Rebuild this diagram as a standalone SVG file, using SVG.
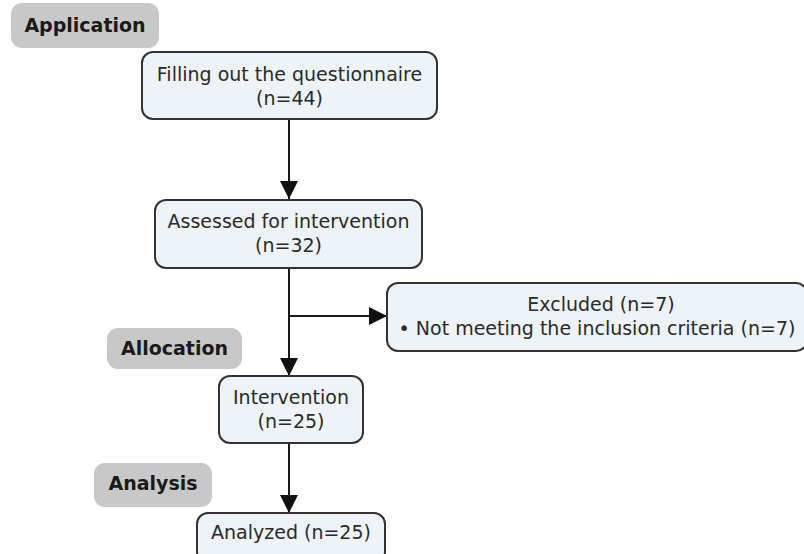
<svg xmlns="http://www.w3.org/2000/svg" width="804" height="554" viewBox="0 0 804 554">
<defs>
<style>
.box{fill:#edf3f6;stroke:#333;stroke-width:2}
.lab{fill:#c8c8c8}
.t{font-family:"DejaVu Sans",Verdana,sans-serif;font-size:19px;fill:#2a2a2a;text-anchor:middle}
.b{font-family:"DejaVu Sans",Verdana,sans-serif;font-size:19px;font-weight:bold;fill:#1a1a1a;text-anchor:middle}
.ln{stroke:#1a1a1a;stroke-width:2;fill:none}
</style>
<marker id="ah" markerWidth="18" markerHeight="18" viewBox="0 0 18 18" refX="18" refY="9" orient="auto" markerUnits="userSpaceOnUse">
<path d="M0,0 L18,9 L0,18 Z" fill="#111"/>
</marker>
</defs>
<rect width="804" height="554" fill="#fff"/>
<g id="label-application"><rect class="lab" x="11" y="3" width="148" height="45" rx="11"/><text class="b" x="85" y="32">Application</text></g>
<g id="label-allocation"><rect class="lab" x="107" y="328" width="135" height="41" rx="11"/><text class="b" x="174.5" y="355">Allocation</text></g>
<g id="label-analysis"><rect class="lab" x="94" y="463" width="118" height="44" rx="11"/><text class="b" x="153" y="490">Analysis</text></g>
<g id="connectors">
<line class="ln" x1="289" y1="119" x2="289" y2="199" marker-end="url(#ah)"/>
<line class="ln" x1="289" y1="268" x2="289" y2="376" marker-end="url(#ah)"/>
<line class="ln" x1="289" y1="316" x2="387" y2="316" marker-end="url(#ah)"/>
<line class="ln" x1="289" y1="443" x2="289" y2="513" marker-end="url(#ah)"/>
</g>
<g id="node-questionnaire"><rect class="box" x="142" y="52" width="295" height="67" rx="11"/><text class="t" x="289.5" y="81">Filling out the questionnaire</text><text class="t" x="289.5" y="105">(n=44)</text></g>
<g id="node-assessed"><rect class="box" x="155" y="200" width="267" height="68" rx="11"/><text class="t" x="288.5" y="228">Assessed for intervention</text><text class="t" x="288.5" y="252">(n=32)</text></g>
<g id="node-excluded"><rect class="box" x="387" y="283" width="420" height="68" rx="11"/><text class="t" x="601" y="311">Excluded (n=7)</text><text class="t" x="597" y="335">• Not meeting the inclusion criteria (n=7)</text></g>
<g id="node-intervention"><rect class="box" x="219" y="376" width="144" height="67" rx="11"/><text class="t" x="291" y="404">Intervention</text><text class="t" x="291" y="428">(n=25)</text></g>
<g id="node-analyzed"><rect class="box" x="197" y="513" width="188" height="50" rx="11"/><text class="t" x="291" y="539">Analyzed (n=25)</text></g>
</svg>
